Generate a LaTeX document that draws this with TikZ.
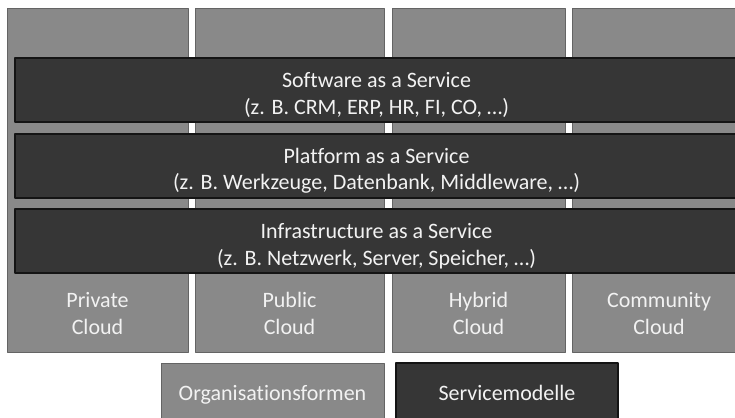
\documentclass[tikz,border=0pt]{standalone}
\usepackage{fontspec}
\setmainfont[Ligatures=NoCommon]{Carlito}
\definecolor{colfill}{RGB}{137,137,137}
\definecolor{colline}{RGB}{100,100,100}
\definecolor{layerfill}{RGB}{54,54,54}
\definecolor{layerline}{RGB}{20,20,20}
\definecolor{captext}{RGB}{242,242,242}
\begin{document}
\begin{tikzpicture}[x=1pt, y=-1pt, line join=round,
  column/.style={draw=colline, fill=colfill, line width=1pt, inner sep=0pt},
  layer/.style={draw=layerline, fill=layerfill, line width=1.2pt, inner sep=0pt},
  caption/.style={text=captext, font=\fontsize{22}{26.5}\selectfont, align=center}]
  \useasboundingbox (0,0) rectangle (735,417);
  \clip (0,0) rectangle (735,417);
  % Cloud columns
  \foreach \l/\r/\kind [count=\x] in {7/188/Private, 195/384/Public, 392/565/Hybrid, 572/746/Community}
    \node [column, minimum width={(\r-\l)*1pt}, minimum height=343pt] (column-\x) at ({(\l+\r)/2}, 180.5) {};
  % Service layers
  \node [layer, minimum width=723pt, minimum height=64pt] (layer-1) at (376.5, 90) {};
  \node [layer, minimum width=723pt, minimum height=64pt] (layer-2) at (376.5, 166) {};
  \node [layer, minimum width=723pt, minimum height=64pt] (layer-3) at (376.5, 241) {};
  % Layer texts
  \node [caption] (text-1) at (376.5, 95) {Software as a Service\\(z. B. CRM, ERP, HR, FI, CO, …)};
  \node [caption] (text-2) at (376.5, 171) {Platform as a Service\\(z. B. Werkzeuge, Datenbank, Middleware, …)};
  \node [caption] (text-3) at (376.5, 246) {Infrastructure as a Service\\(z. B. Netzwerk, Server, Speicher, …)};
  % Cloud texts
  \foreach \l/\r/\kind [count=\x] in {7/188/Private, 195/384/Public, 392/565/Hybrid, 572/746/Community}
    \node [caption] (cloud-\x) at ({(\l+\r)/2}, 313.5) {\kind\\Cloud};
  % Legend
  \node [column, caption, minimum width=223pt, minimum height=64pt, text height=15pt, text depth=4.5pt] (legend-1) at (272.5, 395) {Organisationsformen};
  \node [layer, caption, minimum width=222pt, minimum height=64pt, text height=15pt, text depth=4.5pt] (legend-2) at (507, 395) {Servicemodelle};
\end{tikzpicture}
\end{document}
